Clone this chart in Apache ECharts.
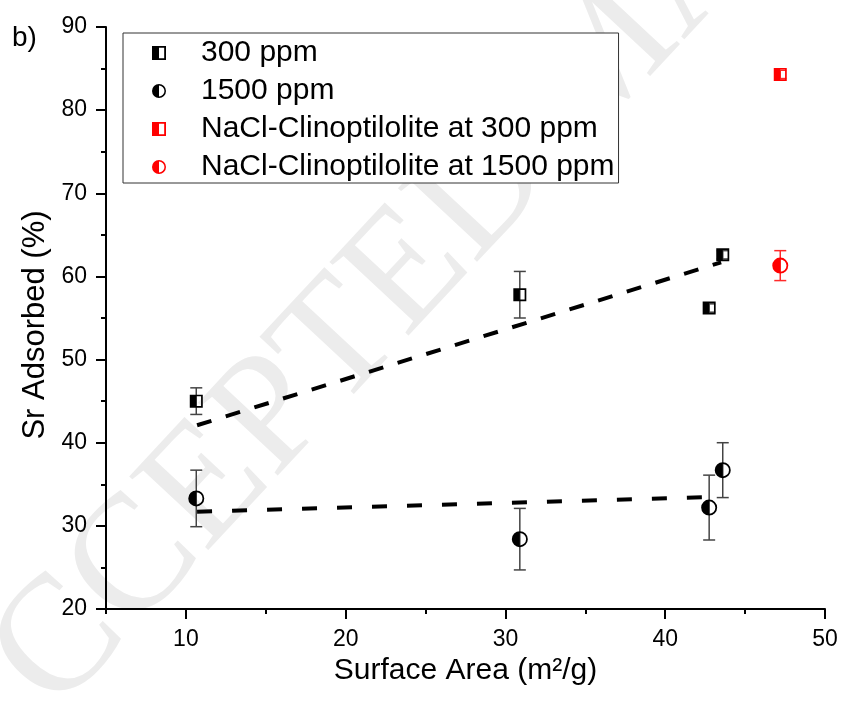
<!DOCTYPE html>
<html>
<head>
<meta charset="utf-8">
<script src="https://cdn.jsdelivr.net/npm/echarts@6/dist/echarts.min.js"></script>
<style>
  html, body { margin: 0; padding: 0; background: #fff; }
  #chart { width: 844px; height: 704px; }
</style>
</head>
<body>
<div id="chart"></div>
<script>
const FONT = 'Liberation Sans';

// surface area (m2/g), adsorbed (%), error (%)
const area300 = [10.65, 30.9, 42.75, 43.6];
const sr300 = [45.0, 57.8, 56.2, 62.6];
const err300 = [1.6, 2.8, 0.5, 0.5];

const area1500 = [10.65, 30.9, 42.75, 43.6];
const sr1500 = [33.3, 28.4, 32.2, 36.7];
const err1500 = [3.4, 3.7, 3.9, 3.3];

const areaNaCl300 = [47.2];
const srNaCl300 = [84.3];
const errNaCl300 = [0.5];

const areaNaCl1500 = [47.2];
const srNaCl1500 = [61.3];
const errNaCl1500 = [1.8];

// linear fit end points
const fit300 = [[10.7, 42.1], [43.5, 61.7]];
const fit1500 = [[10.7, 31.7], [43.5, 33.5]];

const xMajorTicks = [10, 20, 30, 40, 50];
const xMinorTicks = [5, 15, 25, 35, 45];

const names = ['300 ppm', '1500 ppm', 'NaCl-Clinoptilolite at 300 ppm', 'NaCl-Clinoptilolite at 1500 ppm'];

// half filled markers, right half is a hole
const halfSquare = 'path://M0,0H10V10H0Z M5,1.3V8.7H8.7V1.3Z';
const halfCircle = 'path://M5,0A5,5 0 1,1 5,10A5,5 0 1,1 5,0Z M5,1.1L5,8.9A3.9,3.9 0 0,0 5,1.1Z';

function zip(xs, ys, es) {
  return xs.map((x, i) => es ? [x, ys[i], es[i]] : [x, ys[i]]);
}

function renderErrorBar(params, api) {
  const x = api.value(0);
  const y = api.value(1);
  const e = api.value(2);
  const top = api.coord([x, y + e]);
  const bottom = api.coord([x, y - e]);
  const half = 6;
  const style = { stroke: api.visual('color'), lineWidth: 1.5 };
  return {
    type: 'group',
    children: [
      { type: 'line', shape: { x1: top[0], y1: top[1], x2: bottom[0], y2: bottom[1] }, style: style },
      { type: 'line', shape: { x1: top[0] - half, y1: top[1], x2: top[0] + half, y2: top[1] }, style: style },
      { type: 'line', shape: { x1: bottom[0] - half, y1: bottom[1], x2: bottom[0] + half, y2: bottom[1] }, style: style }
    ]
  };
}

function errSeries(data, color) {
  return {
    type: 'custom',
    renderItem: renderErrorBar,
    itemStyle: { color: color },
    encode: { x: 0, y: 1 },
    data: data,
    z: 1,
    silent: true
  };
}

function markSeries(name, data, symbol, size, color) {
  return {
    name: name,
    type: 'scatter',
    symbol: symbol,
    symbolSize: size,
    itemStyle: { color: color, opacity: 1 },
    data: data,
    z: 4
  };
}

function fitSeries(data, dash) {
  return {
    type: 'line',
    data: data,
    symbol: 'none',
    lineStyle: { color: '#000', width: 4, type: dash },
    silent: true,
    z: 3
  };
}

const chart = echarts.init(document.getElementById('chart'));

chart.setOption({
  animation: false,
  backgroundColor: '#fff',
  textStyle: { fontFamily: FONT },
  graphic: [
    {
      type: 'text',
      x: -58,
      y: 772,
      rotation: 47 * Math.PI / 180,
      silent: true,
      z: -10,
      style: {
        text: 'ACCEPTED MANUSCRIPT',
        font: '165px "Liberation Serif"',
        fill: '#ececec',
        align: 'left',
        verticalAlign: 'middle'
      }
    },
    {
      type: 'text',
      left: 12,
      top: 24,
      style: { text: 'b)', font: '28px "Liberation Sans"', fill: '#000' }
    }
  ],
  grid: { left: 106, right: 19, top: 27, bottom: 95 },
  legend: {
    data: names,
    orient: 'vertical',
    left: 123,
    top: 33,
    padding: [5, 4, 1, 29],
    itemGap: 8,
    itemWidth: 14,
    itemHeight: 14,
    borderColor: '#333',
    borderWidth: 1,
    backgroundColor: '#fff',
    textStyle: { fontSize: 30, lineHeight: 30, color: '#000', fontFamily: FONT, padding: [0, 0, 0, 30] }
  },
  xAxis: [
    {
      type: 'value',
      min: 5,
      max: 50,
      splitLine: { show: false },
      axisLine: { show: true, onZero: false, lineStyle: { color: '#000', width: 2 } },
      axisTick: { show: true, customValues: xMajorTicks, length: 10, lineStyle: { color: '#000', width: 2 } },
      axisLabel: { customValues: xMajorTicks, fontSize: 23, color: '#000', margin: 19, fontFamily: FONT },
      name: 'Surface Area (m²/g)',
      nameLocation: 'middle',
      nameGap: 22,
      nameTextStyle: { fontSize: 30, color: '#000', fontFamily: FONT }
    },
    {
      type: 'value',
      min: 5,
      max: 50,
      position: 'bottom',
      splitLine: { show: false },
      axisLine: { show: false },
      axisTick: { show: true, customValues: xMinorTicks, length: 5, lineStyle: { color: '#000', width: 2 } },
      axisLabel: { show: false }
    }
  ],
  yAxis: {
    type: 'value',
    min: 20,
    max: 90,
    interval: 10,
    splitLine: { show: false },
    axisLine: { show: true, lineStyle: { color: '#000', width: 2 } },
    axisTick: { show: true, length: 10, lineStyle: { color: '#000', width: 2 } },
    minorTick: { show: true, splitNumber: 2, length: 5, lineStyle: { color: '#000', width: 2 } },
    axisLabel: { fontSize: 23, color: '#000', margin: 19, fontFamily: FONT },
    name: 'Sr Adsorbed (%)',
    nameLocation: 'middle',
    nameGap: 52,
    nameTextStyle: { fontSize: 31, color: '#000', fontFamily: FONT, padding: [0, 14, 0, 0] }
  },
  series: [
    errSeries(zip(area300, sr300, err300), '#444'),
    errSeries(zip(area1500, sr1500, err1500), '#444'),
    errSeries(zip(areaNaCl300, srNaCl300, errNaCl300), '#ff2a2a'),
    errSeries(zip(areaNaCl1500, srNaCl1500, errNaCl1500), '#ff2a2a'),
    fitSeries(fit300, [15, 15]),
    fitSeries(fit1500, [15, 20]),
    markSeries(names[0], zip(area300, sr300), halfSquare, 13, '#000'),
    markSeries(names[1], zip(area1500, sr1500), halfCircle, 16, '#000'),
    markSeries(names[2], zip(areaNaCl300, srNaCl300), halfSquare, 13, '#ff0000'),
    markSeries(names[3], zip(areaNaCl1500, srNaCl1500), halfCircle, 16, '#ff0000')
  ]
});
</script>
</body>
</html>
